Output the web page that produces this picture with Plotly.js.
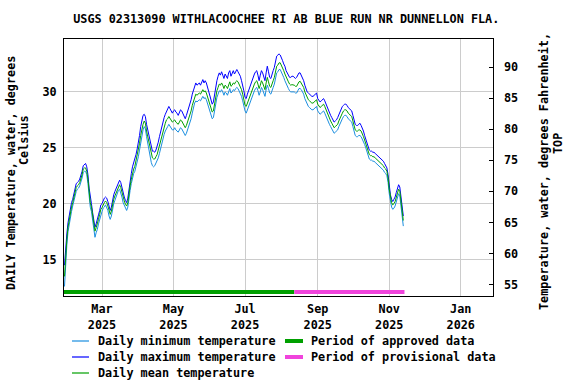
<!DOCTYPE html>
<html>
<head>
<meta charset="utf-8">
<script src="https://cdn.plot.ly/plotly-3.0.1.min.js"></script>
<style>html,body{margin:0;padding:0;background:#fff;}#chart{width:576px;height:384px;}</style>
</head>
<body>
<div id="chart"></div>
<script>
// ---- data ----
const startDate = '2025-01-28';
const titleText = 'USGS 02313090 WITHLACOOCHEE RI AB BLUE RUN NR DUNNELLON FLA.';
const seriesNames = ['Daily minimum temperature', 'Daily maximum temperature', 'Daily mean temperature'];
const periodNames = ['Period of approved data', 'Period of provisional data'];
const approvedPeriod = ['2025-01-27', '2025-08-12'];
const provisionalPeriod = ['2025-08-12', '2025-11-14'];
const leftTitleLines = ['DAILY Temperature, water, degrees', 'Celsius'];
const rightTitleLines = ['Temperature, water, degrees Fahrenheit,', 'TOP'];
const celsiusTicks = [15, 20, 25, 30];
const fahrenheitTicks = [55, 60, 65, 70, 75, 80, 85, 90];

const meanTemp = [
13.5,15.6,16.8,17.9,18.6,18.9,19.7,20.1,20.55,21.1,
21.45,21.6,21.7,21.9,22.2,22.6,23.1,23.2,23.2,22.9,
22.2,21.0,20.1,19.7,18.9,18.15,17.55,17.85,18.15,18.6,
19.05,19.5,19.65,19.95,20.1,20.25,20.1,19.8,19.35,19.05,
19.35,19.95,20.4,20.7,21.0,21.3,21.6,21.7,21.45,21.0,
20.5,20.25,19.95,19.8,20.1,21.0,21.6,22.2,22.8,23.1,
23.35,23.8,24.25,24.7,25.4,26.1,26.7,27.1,27.4,27.2,
26.5,26.0,25.3,24.8,24.4,24.1,24.0,24.0,24.2,24.4,
24.8,25.2,25.7,26.2,26.6,26.9,27.2,27.5,27.6,27.8,
27.6,27.4,27.3,27.4,27.5,27.3,27.2,27.1,27.3,27.5,
27.4,27.2,26.9,26.8,27.0,27.3,27.6,27.9,28.3,28.8,
29.2,29.6,29.8,29.7,29.8,29.9,29.8,30.0,30.2,30.0,
30.1,29.9,29.6,29.3,28.9,28.5,28.2,28.3,28.9,29.6,
30.1,30.4,30.7,30.6,30.8,30.6,30.3,30.6,30.5,30.3,
30.7,30.9,30.5,30.6,30.8,30.7,30.9,31.0,30.9,30.7,
30.5,30.2,29.8,29.3,28.8,28.7,29.0,29.3,29.6,29.9,
30.2,30.5,30.7,30.9,31.0,30.7,30.3,30.6,31.0,30.8,
30.5,30.2,30.8,31.3,30.9,30.5,30.4,30.8,31.0,31.3,
31.9,32.3,32.4,32.6,32.6,32.4,32.1,31.9,31.6,31.3,
31.1,30.9,30.7,30.6,30.65,30.65,30.6,30.5,30.5,30.7,
30.9,30.95,30.8,30.6,30.4,30.0,29.7,29.5,29.3,29.2,
29.1,29.0,29.0,29.1,29.2,29.3,28.9,28.7,28.6,28.7,
28.8,28.9,28.7,28.4,28.1,27.8,27.6,27.4,27.2,27.0,
26.8,26.9,27.0,27.1,27.4,27.7,27.9,28.1,28.3,28.4,
28.4,28.3,28.1,28.0,27.9,27.8,27.4,26.9,26.6,26.5,
26.5,26.6,26.6,26.5,26.3,26.0,25.7,25.4,25.0,24.6,
24.4,24.3,24.3,24.2,24.2,24.1,24.0,23.9,23.8,23.7,
23.6,23.5,23.4,23.2,23.1,22.9,22.3,21.3,20.5,20.1,
19.9,20.0,20.2,20.6,21.0,21.3,21.1,20.3,19.0,18.5
];
const maxTemp = [
14.5,16.2,17.3,18.3,19.0,19.3,20.1,20.4,20.9,21.4,
21.8,21.9,22.0,22.2,22.5,22.9,23.4,23.5,23.6,23.3,
22.6,21.4,20.4,20.0,19.2,18.5,17.9,18.2,18.5,19.0,
19.4,19.9,20.0,20.3,20.5,20.6,20.5,20.2,19.7,19.4,
19.7,20.3,20.8,21.1,21.4,21.7,22.0,22.1,21.9,21.4,
20.9,20.6,20.3,20.1,20.5,21.4,22.0,22.7,23.3,23.6,
23.9,24.4,24.9,25.4,26.1,26.9,27.5,27.9,28.0,27.8,
27.1,26.6,25.9,25.4,25.0,24.7,24.7,24.6,24.8,25.1,
25.5,26.0,26.5,27.0,27.4,27.7,28.0,28.3,28.5,28.7,
28.5,28.2,28.1,28.3,28.4,28.2,28.1,27.9,28.1,28.4,
28.3,28.0,27.7,27.6,27.9,28.2,28.5,28.8,29.3,29.8,
30.2,30.6,30.8,30.6,30.7,30.8,30.6,30.9,31.1,30.8,
31.0,30.8,30.4,30.1,29.7,29.2,28.9,29.1,29.8,30.5,
31.0,31.4,31.7,31.5,31.8,31.5,31.2,31.6,31.4,31.2,
31.7,31.9,31.4,31.6,31.9,31.6,31.8,32.0,31.8,31.6,
31.4,31.0,30.6,30.1,29.5,29.4,29.8,30.1,30.5,30.8,
31.1,31.4,31.6,31.8,31.9,31.5,31.0,31.5,31.9,31.7,
31.3,31.0,31.7,32.3,31.8,31.3,31.2,31.7,31.9,32.2,
32.8,33.2,33.3,33.4,33.3,33.1,32.8,32.5,32.3,31.9,
31.7,31.5,31.3,31.3,31.4,31.4,31.3,31.2,31.3,31.5,
31.7,31.7,31.5,31.2,31.0,30.6,30.2,30.0,29.9,29.8,
29.7,29.6,29.6,29.7,29.8,29.9,29.4,29.2,29.1,29.2,
29.3,29.4,29.2,28.9,28.6,28.3,28.1,27.9,27.7,27.5,
27.3,27.4,27.5,27.7,28.0,28.3,28.5,28.7,28.8,28.9,
28.9,28.8,28.6,28.5,28.4,28.3,27.9,27.4,27.1,27.0,
27.0,27.1,27.2,27.0,26.8,26.5,26.1,25.8,25.4,25.0,
24.8,24.7,24.7,24.6,24.6,24.5,24.4,24.3,24.2,24.1,
24.0,23.9,23.8,23.6,23.4,23.2,22.6,21.6,20.8,20.4,
20.2,20.4,20.6,21.0,21.4,21.7,21.5,20.7,19.4,18.9
];
const minTemp = [
12.6,15.0,16.3,17.5,18.2,18.5,19.3,19.8,20.2,20.8,
21.1,21.3,21.4,21.6,21.9,22.3,22.8,22.9,22.9,22.6,
21.8,20.6,19.7,19.3,18.5,17.6,17.0,17.4,17.7,18.2,
18.6,19.1,19.3,19.6,19.7,19.9,19.7,19.4,18.9,18.6,
18.9,19.5,20.0,20.3,20.6,20.9,21.2,21.3,21.0,20.6,
20.1,19.8,19.5,19.4,19.7,20.6,21.2,21.8,22.4,22.7,
22.9,23.3,23.8,24.2,24.8,25.5,26.1,26.6,26.9,26.7,
26.0,25.4,24.7,24.1,23.7,23.4,23.3,23.4,23.6,23.8,
24.1,24.5,25.0,25.5,25.9,26.2,26.5,26.8,26.9,27.1,
26.9,26.7,26.6,26.6,26.8,26.6,26.5,26.4,26.6,26.8,
26.7,26.5,26.3,26.1,26.3,26.6,26.9,27.2,27.6,28.1,
28.6,29.0,29.2,29.1,29.2,29.3,29.2,29.4,29.6,29.4,
29.5,29.3,29.0,28.7,28.3,27.9,27.6,27.7,28.3,29.0,
29.5,29.8,30.1,30.0,30.2,30.0,29.7,30.0,29.9,29.7,
30.1,30.3,29.9,30.0,30.2,30.1,30.3,30.4,30.3,30.1,
29.9,29.6,29.2,28.7,28.3,28.1,28.4,28.7,29.0,29.3,
29.6,29.9,30.1,30.3,30.4,30.1,29.7,30.0,30.4,30.2,
29.9,29.6,30.2,30.6,30.3,29.9,29.8,30.2,30.4,30.7,
31.3,31.7,31.8,32.0,32.0,31.8,31.5,31.3,31.0,30.7,
30.5,30.3,30.1,30.0,30.0,30.0,30.0,29.9,29.9,30.1,
30.3,30.3,30.2,30.0,29.8,29.4,29.1,28.9,28.7,28.6,
28.5,28.4,28.4,28.5,28.6,28.7,28.3,28.1,28.0,28.1,
28.2,28.3,28.1,27.8,27.6,27.3,27.1,26.9,26.7,26.5,
26.3,26.4,26.5,26.6,26.9,27.2,27.4,27.6,27.8,27.9,
27.9,27.8,27.6,27.5,27.4,27.3,26.9,26.4,26.1,26.0,
26.0,26.1,26.1,26.0,25.8,25.5,25.3,25.0,24.6,24.2,
24.0,23.9,23.9,23.8,23.8,23.7,23.6,23.5,23.4,23.3,
23.2,23.1,23.0,22.8,22.7,22.5,21.9,20.9,20.1,19.7,
19.5,19.6,19.8,20.2,20.6,20.9,20.7,19.9,18.6,18.0
];

// ---- build ----
const dates = [];
{
  const p = startDate.split('-').map(Number);
  for (let i = 0; i < meanTemp.length; i++) {
    dates.push(new Date(Date.UTC(p[0], p[1]-1, p[2]+i)).toISOString().slice(0,10));
  }
}
const FONT = {family: '"DejaVu Sans Mono", monospace', size: 11.8, color: '#000', weight: 'bold'};
const cMin = '#1a8ee0', cMax = '#0000ff', cMean = '#00a000', cAppr = '#00a000', cProv = '#f044dc';
const yRangeC = [11.75, 34.73];
const yRangeF = yRangeC.map(v => v*1.8+32);

const traces = [
  {x: dates, y: minTemp, name: seriesNames[0], type: 'scatter', mode: 'lines', line: {color: cMin, width: 1}},
  {x: dates, y: maxTemp, name: seriesNames[1], type: 'scatter', mode: 'lines', line: {color: cMax, width: 1}},
  {x: dates, y: meanTemp, name: seriesNames[2], type: 'scatter', mode: 'lines', line: {color: cMean, width: 1}},
  {x: [null], y: [null], yaxis: 'y2', hoverinfo: 'skip', type: 'scatter', mode: 'lines'}
];

// plot box in pixels: left 64, right 493, top 39, bottom 296
const PL = 64, PW = 429, PB = 296, PH = 257;
const px = v => (v - PL) / PW;
const py = v => (PB - v) / PH;

// manual legend (column-major like the reference)
const legendItems = [
  {name: seriesNames[0], color: cMin, width: 1.2, col: 0, row: 0},
  {name: seriesNames[1], color: cMax, width: 1.2, col: 0, row: 1},
  {name: seriesNames[2], color: cMean, width: 1.2, col: 0, row: 2},
  {name: periodNames[0], color: cAppr, width: 4, col: 1, row: 0},
  {name: periodNames[1], color: cProv, width: 4, col: 1, row: 1}
];
const colLine = [[72, 89], [285, 303]];
const colText = [96, 309];
const rowY = [341, 357, 373];

const shapes = [
  {type: 'line', xref: 'x', yref: 'paper', x0: approvedPeriod[0], x1: approvedPeriod[1], y0: 0.0156, y1: 0.0156, line: {color: cAppr, width: 4}},
  {type: 'line', xref: 'x', yref: 'paper', x0: provisionalPeriod[0], x1: provisionalPeriod[1], y0: 0.0156, y1: 0.0156, line: {color: cProv, width: 4}}
];
const annotations = [];
legendItems.forEach(it => {
  shapes.push({type: 'line', xref: 'paper', yref: 'paper',
    x0: px(colLine[it.col][0]), x1: px(colLine[it.col][1]),
    y0: py(rowY[it.row]), y1: py(rowY[it.row]),
    line: {color: it.color, width: it.width}});
  annotations.push({xref: 'paper', yref: 'paper', x: px(colText[it.col]), y: py(rowY[it.row]),
    xanchor: 'left', yanchor: 'middle', text: it.name, showarrow: false, font: FONT});
});
// axis titles
annotations.push({xref: 'paper', yref: 'paper', x: px(11), y: py(173), text: leftTitleLines[0], textangle: -90,
  xanchor: 'center', yanchor: 'middle', showarrow: false, font: FONT});
annotations.push({xref: 'paper', yref: 'paper', x: px(24), y: py(140), text: leftTitleLines[1], textangle: -90,
  xanchor: 'center', yanchor: 'middle', showarrow: false, font: FONT});
annotations.push({xref: 'paper', yref: 'paper', x: px(544), y: py(172), text: rightTitleLines[0], textangle: -90,
  xanchor: 'center', yanchor: 'middle', showarrow: false, font: FONT});
annotations.push({xref: 'paper', yref: 'paper', x: px(558), y: py(144), text: rightTitleLines[1], textangle: -90,
  xanchor: 'center', yanchor: 'middle', showarrow: false, font: FONT});

const layout = {
  width: 576, height: 384,
  margin: {l: 64, r: 83, t: 39, b: 88},
  paper_bgcolor: '#fff', plot_bgcolor: '#fff',
  font: FONT,
  showlegend: false,
  title: {text: titleText, font: FONT, x: 0.497, xref: 'container', xanchor: 'center', y: 0.95, yref: 'container', yanchor: 'middle'},
  xaxis: {
    type: 'date', range: ['2025-01-27 14:00', '2026-01-28 12:00'],
    tick0: '2025-01-01', dtick: 'M2', tickformat: '%b<br>%Y',
    showgrid: true, gridcolor: '#cccccc', gridwidth: 1,
    showline: true, linecolor: '#000', linewidth: 1, mirror: true,
    ticks: '', tickfont: FONT, zeroline: false, ticklabelstandoff: 2, automargin: false
  },
  yaxis: {
    range: yRangeC, tickvals: celsiusTicks,
    showgrid: true, gridcolor: '#cccccc', gridwidth: 1,
    showline: true, linecolor: '#000', linewidth: 1, mirror: true,
    ticks: '', tickfont: FONT, zeroline: false, ticklabelstandoff: 4, automargin: false
  },
  yaxis2: {
    overlaying: 'y', side: 'right', range: yRangeF,
    tickvals: fahrenheitTicks,
    showgrid: false, zeroline: false, showline: false,
    ticks: 'inside', ticklen: 4, tickcolor: '#000', tickfont: FONT, ticklabelstandoff: 10, automargin: false
  },
  shapes: shapes,
  annotations: annotations
};

Plotly.newPlot('chart', traces, layout, {displayModeBar: false, staticPlot: true});
</script>
</body>
</html>
